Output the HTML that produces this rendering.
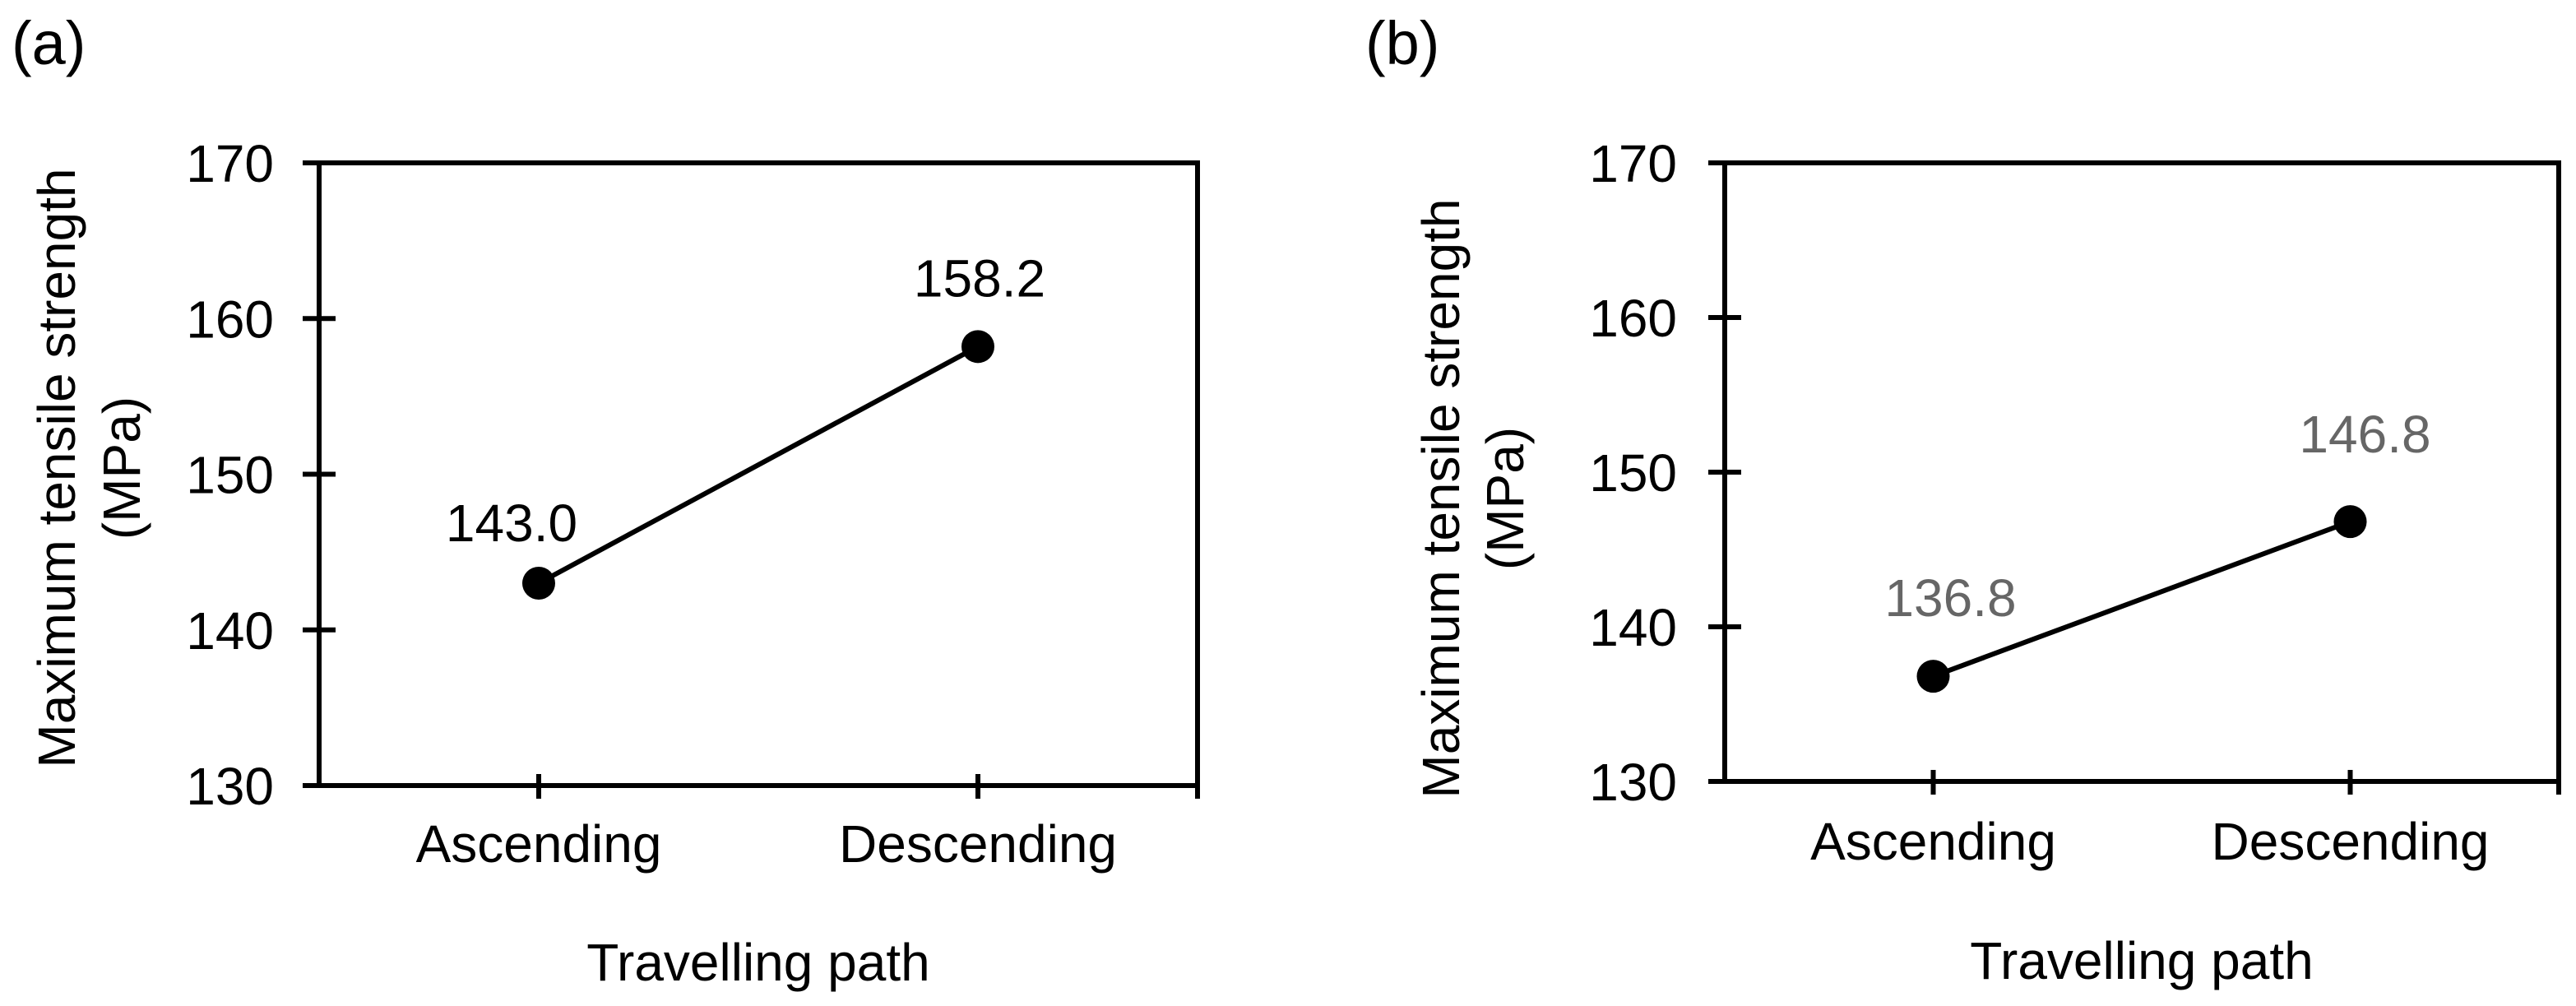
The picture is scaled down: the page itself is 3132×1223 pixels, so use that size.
<!DOCTYPE html>
<html><head><meta charset="utf-8"><style>
html,body{margin:0;padding:0;background:#fff;}
svg{display:block;font-family:"Liberation Sans",Arial,sans-serif;}
</style></head><body>
<svg id="fig" width="3132" height="1223" viewBox="0 0 3132 1223" xmlns="http://www.w3.org/2000/svg"></svg>
<script>
const categories = ["Ascending", "Descending"];
const valuesA = [143.0, 158.2];
const valuesB = [136.8, 146.8];
const labelsA = ["143.0", "158.2"];
const labelsB = ["136.8", "146.8"];
const yTicks = [130, 140, 150, 160, 170];
const yMin = 130, yMax = 170;

const NS = "http://www.w3.org/2000/svg";
const svg = document.getElementById("fig");
function mk(tag, attrs, parent) {
  const e = document.createElementNS(NS, tag);
  for (const k in attrs) e.setAttribute(k, attrs[k]);
  (parent || svg).appendChild(e);
  return e;
}

const panels = [
  {id: "a", left: 388, right: 1456, top: 198, bottom: 955, vals: valuesA, labels: labelsA, color: "#000",
   tickRight: 333, titleX1: 91, titleX2: 170, titleY: 569, catBase: 1048, xTitleBase: 1192, letterX: 14,
   ldx: [-33, 2], ldy: [-51, -61]},
  {id: "b", left: 2097, right: 3111, top: 198, bottom: 950, vals: valuesB, labels: labelsB, color: "#666",
   tickRight: 2039, titleX1: 1774, titleX2: 1852, titleY: 606, catBase: 1045, xTitleBase: 1190, letterX: 1660,
   ldx: [21, 18], ldy: [-73, -84]}
];

panels.forEach(p => {
  const g = mk("g", {});
  
  
  const yS = v => p.bottom - (v - yMin) / (yMax - yMin) * (p.bottom - p.top);
  const bw = (p.right - p.left) / categories.length;
  const xS = i => p.left + bw * (i + 0.5);

  const lt = mk("text", {x: p.letterX, y: 78, "font-size": 74, fill: "#000"}, g);
  lt.textContent = "(" + p.id + ")";
  
  

  const frame = mk("rect", {x: p.left, y: p.top, width: p.right - p.left, height: p.bottom - p.top, fill: "none", stroke: "#000", "stroke-width": 6}, g);
  
  

  yTicks.forEach(t => {
    const y = yS(t);
    const tk = mk("line", {x1: p.left - 20, x2: p.left + 20, y1: y, y2: y, stroke: "#000", "stroke-width": 6}, g);
    
    
    const tl = mk("text", {x: p.tickRight, y: y + 23, "font-size": 64, "text-anchor": "end", fill: "#000"}, g);
    tl.textContent = t;
    
    
  });

  categories.forEach((c, i) => {
    const x = xS(i);
    const tk = mk("line", {x1: x, x2: x, y1: p.bottom - 14, y2: p.bottom + 16, stroke: "#000", "stroke-width": 6}, g);
    
    
    const cl = mk("text", {x: x, y: p.catBase, "font-size": 64, "text-anchor": "middle", fill: "#000"}, g);
    cl.textContent = c;
    
    
  });
  const et = mk("line", {x1: p.right, x2: p.right, y1: p.bottom, y2: p.bottom + 16, stroke: "#000", "stroke-width": 6}, g);
  
  

  const yt = mk("text", {transform: `translate(${p.titleX1},${p.titleY}) rotate(-90)`, "font-size": 64, "text-anchor": "middle", fill: "#000"}, g);
  yt.textContent = "Maximum tensile strength";
  
  
  const yt2 = mk("text", {transform: `translate(${p.titleX2},${p.titleY}) rotate(-90)`, "font-size": 64, "text-anchor": "middle", fill: "#000"}, g);
  yt2.textContent = "(MPa)";
  
  

  const xt = mk("text", {x: (p.left + p.right) / 2, y: p.xTitleBase, "font-size": 64, "text-anchor": "middle", fill: "#000"}, g);
  xt.textContent = "Travelling path";
  
  

  const pts = p.vals.map((v, i) => xS(i) + "," + yS(v)).join(" ");
  const ln = mk("polyline", {points: pts, fill: "none", stroke: "#000", "stroke-width": 6}, g);
  
  

  p.vals.forEach((v, i) => {
    const c = mk("circle", {cx: xS(i), cy: yS(v), r: 20, fill: "#000"}, g);
    
    
    const dl = mk("text", {x: xS(i) + p.ldx[i], y: yS(v) + p.ldy[i], "font-size": 64, "text-anchor": "middle", fill: p.color}, g);
    dl.textContent = p.labels[i];
    
    
  });
});
</script>
</body></html>
